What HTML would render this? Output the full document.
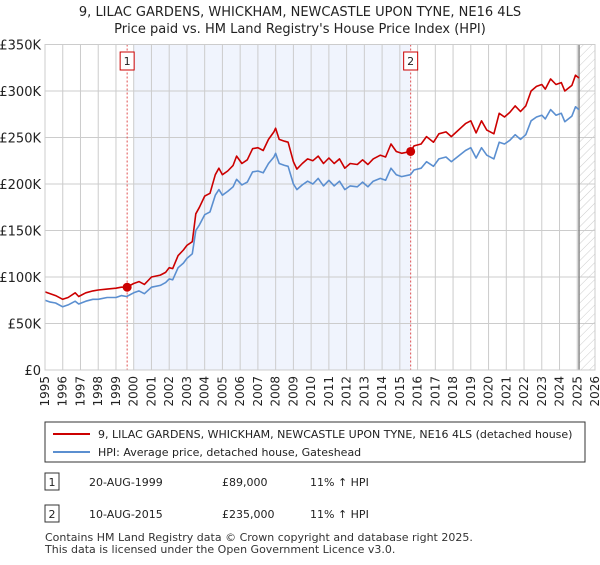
<!DOCTYPE html>
<html><head><meta charset="utf-8"><style>
body{margin:0;background:#fff;font-family:"Liberation Sans","DejaVu Sans",sans-serif;}
svg text{font-family:"DejaVu Sans","Liberation Sans",sans-serif;}
</style></head><body>
<svg id="chart" width="600" height="560" xmlns="http://www.w3.org/2000/svg">
<defs><pattern id="hatch" patternUnits="userSpaceOnUse" width="6" height="6" patternTransform="rotate(45)"><line x1="0" y1="0" x2="0" y2="6" stroke="#ccc" stroke-width="1"/></pattern></defs>
<text x="300" y="16" text-anchor="middle" font-size="13" fill="#222">9, LILAC GARDENS, WHICKHAM, NEWCASTLE UPON TYNE, NE16 4LS</text>
<text x="300" y="33" text-anchor="middle" font-size="13" fill="#222">Price paid vs. HM Land Registry's House Price Index (HPI)</text>
<g id="plot"></g>
<g>
<rect x="45" y="422" width="540" height="40" fill="#fff" stroke="#333"/>
<line x1="53" y1="434" x2="90" y2="434" stroke="#cc0000" stroke-width="2"/>
<text x="98" y="438" font-size="11" fill="#222">9, LILAC GARDENS, WHICKHAM, NEWCASTLE UPON TYNE, NE16 4LS (detached house)</text>
<line x1="53" y1="452" x2="90" y2="452" stroke="#5b8fd0" stroke-width="2"/>
<text x="98" y="456" font-size="11" fill="#222">HPI: Average price, detached house, Gateshead</text>
</g>
<g font-size="11" fill="#222">
<rect x="45" y="473" width="14" height="17" fill="#fff" stroke="#333"/><text x="52" y="486" text-anchor="middle">1</text>
<text x="89" y="486">20-AUG-1999</text><text x="222" y="486">£89,000</text><text x="310" y="486">11% ↑ HPI</text>
<rect x="45" y="505" width="14" height="17" fill="#fff" stroke="#333"/><text x="52" y="518" text-anchor="middle">2</text>
<text x="89" y="518">10-AUG-2015</text><text x="222" y="518">£235,000</text><text x="310" y="518">11% ↑ HPI</text>
</g>
<text x="45" y="541" font-size="11" fill="#333">Contains HM Land Registry data © Crown copyright and database right 2025.</text>
<text x="45" y="553" font-size="11" fill="#333">This data is licensed under the Open Government Licence v3.0.</text>
</svg>
<script>
const years=[1995.0,1995.3,1995.6,1996.0,1996.3,1996.7,1996.9,1997.3,1997.7,1998.0,1998.5,1999.0,1999.3,1999.6,2000.0,2000.3,2000.6,2001.0,2001.5,2001.8,2002.0,2002.2,2002.5,2002.8,2003.0,2003.3,2003.5,2003.7,2004.0,2004.3,2004.6,2004.8,2005.0,2005.3,2005.6,2005.8,2006.1,2006.4,2006.7,2007.0,2007.3,2007.6,2007.9,2008.0,2008.2,2008.5,2008.7,2009.0,2009.2,2009.5,2009.8,2010.1,2010.4,2010.7,2011.0,2011.3,2011.6,2011.9,2012.2,2012.6,2012.9,2013.2,2013.5,2013.9,2014.2,2014.5,2014.8,2015.1,2015.6,2015.8,2016.2,2016.5,2016.9,2017.2,2017.6,2017.9,2018.3,2018.7,2019.0,2019.3,2019.6,2019.9,2020.3,2020.6,2020.9,2021.2,2021.5,2021.8,2022.1,2022.4,2022.7,2023.0,2023.2,2023.5,2023.8,2024.1,2024.3,2024.7,2024.9,2025.1];
const hpiValues=[75,73,72,68,70,74,71,74,76,76,78,78,80,79,83,85,82,89,91,94,98,97,110,115,120,125,150,156,167,170,188,194,188,192,197,205,199,202,213,214,212,222,229,233,222,220,219,200,194,199,203,200,206,198,204,198,203,194,198,197,202,197,203,206,204,217,210,208,210,215,217,224,219,227,229,224,230,236,239,228,239,231,227,245,243,247,253,248,253,268,272,274,270,280,274,276,267,273,283,280];
const priceValues=[84,82,80,76,78,83,79,83,85,86,87,88,89,89,93,95,92,100,102,105,110,109,123,129,134,138,168,175,187,190,210,217,210,214,220,230,222,226,238,239,236,248,256,260,248,246,245,224,216,222,227,225,230,222,228,222,227,217,222,221,226,221,227,231,229,243,235,233,235,241,243,251,245,254,256,251,258,265,268,255,268,258,254,276,272,277,284,278,284,300,305,307,302,313,307,309,300,306,317,314];
const saleYears=[1999.63,2015.61];
const saleValues=[89,235];
const saleLabels=["1","2"];
const yTicks=[0,50,100,150,200,250,300,350];
const yTickLabels=["£0","£50K","£100K","£150K","£200K","£250K","£300K","£350K"];
const xTicks=[1995,1996,1997,1998,1999,2000,2001,2002,2003,2004,2005,2006,2007,2008,2009,2010,2011,2012,2013,2014,2015,2016,2017,2018,2019,2020,2021,2022,2023,2024,2025,2026];
const X0=45,X1=595,Y0=370,Y1=44.5;
const xs=y=>X0+(y-1995)/(2026-1995)*(X1-X0);
const ys=v=>Y0-v/350*(Y0-Y1);
const NS="http://www.w3.org/2000/svg";
const g=document.getElementById('plot');
function mk(t,a,p){const e=document.createElementNS(NS,t);for(const k in a)e.setAttribute(k,a[k]);(p||g).appendChild(e);return e;}
let e;
e=mk('rect',{x:xs(2000),y:Y1,width:xs(saleYears[1])-xs(2000),height:Y0-Y1,fill:'#f0f4fd'});


e=mk('rect',{x:xs(2025.1),y:Y1,width:X1-xs(2025.1),height:Y0-Y1,fill:'url(#hatch)'});


xTicks.forEach(t=>{
 e=mk('line',{x1:xs(t),x2:xs(t),y1:Y1,y2:Y0,stroke:'#ccc','stroke-width':1});
 
 
 const tx=mk('text',{x:0,y:0,'font-size':12,fill:'#222','text-anchor':'end',transform:`translate(${xs(t)+4},${Y0+6}) rotate(-90)`});
 tx.textContent=t;
 
 
});
yTicks.forEach((t,i)=>{
 e=mk('line',{x1:X0,x2:X1,y1:ys(t),y2:ys(t),stroke:'#ccc','stroke-width':1});
 
 
 const tx=mk('text',{x:X0-4,y:ys(t)+5,'font-size':13,fill:'#222','text-anchor':'end'});
 tx.textContent=yTickLabels[i];
 
 
});
e=mk('line',{x1:xs(2025.1),x2:xs(2025.1),y1:Y1,y2:Y0,stroke:'#888','stroke-width':1.5});


saleYears.forEach((s,i)=>{
 e=mk('line',{x1:xs(s),x2:xs(s),y1:Y1,y2:Y0,stroke:'#e05050','stroke-width':1,'stroke-dasharray':'2,2'});
 
 
 e=mk('rect',{x:xs(s)-7,y:52,width:14,height:18,fill:'#fff',stroke:'#cc0000'});
 
 
 const tx=mk('text',{x:xs(s),y:65,'font-size':11,fill:'#222','text-anchor':'middle'});
 tx.textContent=saleLabels[i];
 
 
});
function line(vals,col,name){
 const d=years.map((y,i)=>(i?'L':'M')+xs(y).toFixed(1)+','+ys(vals[i]).toFixed(1)).join('');
 const p=mk('path',{d:d,fill:'none',stroke:col,'stroke-width':1.6,'stroke-linejoin':'round'});
 
 
}
line(hpiValues,'#5b8fd0','hpi-line');
line(priceValues,'#cc0000','price-line');
saleYears.forEach((s,i)=>{
 e=mk('circle',{cx:xs(s),cy:ys(saleValues[i]),r:4.5,fill:'#cc0000'});
 
 
});
e=mk('rect',{x:X0,y:Y1,width:X1-X0,height:Y0-Y1,fill:'none',stroke:'#ccc'});


</script>
</body></html>
